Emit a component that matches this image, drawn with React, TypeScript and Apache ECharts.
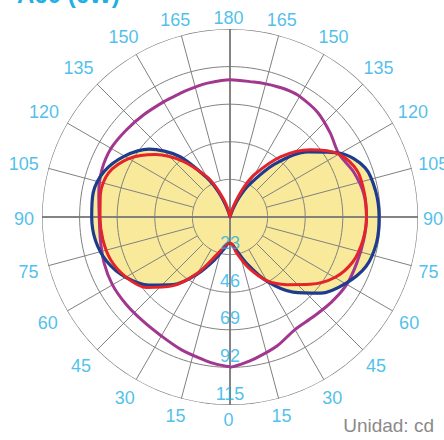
import React, { useEffect, useRef } from 'react';
import * as echarts from 'echarts';

// angles γ (0 = nadir / bottom, 180 = top), same on both halves
const gammas = [0, 5, 10, 20, 30, 40, 50, 60, 70, 80, 90, 100, 110, 120, 130, 140, 150, 155, 160, 165, 170, 180];

// intensities in cd, left half and right half
const blueLeft = [16, 16.5, 19.5, 28, 40.5, 54, 64.8, 73.7, 80, 83.5, 84.6, 85, 81.8, 74.5, 64.6, 48.5, 27, 17.5, 8, 2, 0, 0];
const blueRight = [16, 17, 20, 30.5, 45.5, 60, 72.5, 81.5, 88.5, 91, 91.2, 90.5, 88, 78, 62, 42, 22, 13, 5, 1, 0, 0];
const redLeft = [16, 16.5, 18, 25, 39.5, 55, 67, 73.5, 77.5, 79, 79.5, 80.5, 79, 71.5, 59.5, 44.5, 28.5, 20, 11.5, 5, 1, 0];
const redRight = [16, 17, 22, 33, 45, 54, 64, 74, 80, 82.5, 83.5, 83.5, 82.8, 77, 64, 48, 30, 20, 10, 4, 1, 0];
const purpleLeft = [91.6, 90.5, 89, 86.5, 84, 83, 83, 83, 82, 80.5, 80, 81.5, 83.5, 84, 82.8, 81.8, 81.3, 81.3, 81.8, 82.3, 83, 84];
const purpleRight = [92, 90, 88, 84, 79.5, 79.5, 81, 82.5, 82.5, 83, 83.5, 83, 80.5, 77, 80, 83.5, 85.2, 85.3, 84.8, 84.3, 83.8, 84];

const ringValues = [23, 46, 69, 92, 115];
const angleTicks = [0, 15, 30, 45, 60, 75, 90, 105, 120, 135, 150, 165, 180, 195, 210, 225, 240, 255, 270, 285, 300, 315, 330, 345];

const titleText = 'A60 (6W)';
const unitText = 'Unidad: cd';

const CYAN = '#1eb0e5';
const BLUE = '#1f3b8e';
const RED = '#e3242b';
const PURPLE = '#a2378f';
const YELLOW = '#f9ea9b';
const GRID = '#808080';
const FONT = '"Liberation Sans", Arial, Helvetica, sans-serif';

const CX = 230;
const CY = 217;
const R = 188;
const MAXV = 115;
const PX = R / MAXV;

function toPolar(left: number[], right: number[]) {
  const pts: number[][] = left.map((v, i) => [v, gammas[i]]);
  for (let i = right.length - 2; i >= 0; i--) pts.push([right[i], 360 - gammas[i]]);
  return pts;
}

function angleLabel(t: number) {
  return String(t <= 180 ? t : 360 - t);
}

function labelRadius(t: number) {
  const txt = angleLabel(t);
  const w = txt.length * 10;
  const h = 13;
  const rad = (t * Math.PI) / 180;
  const half = Math.abs(Math.sin(rad)) * (w / 2) + Math.abs(Math.cos(rad)) * (h / 2);
  const gap = 6.5 + 2.5 * Math.abs(Math.sin(2 * rad));
  return (R + gap + half) / PX;
}

export default function App() {
  const ref = useRef<HTMLDivElement>(null);

  useEffect(() => {
    if (!ref.current) return;
    const chart = echarts.init(ref.current, undefined, { renderer: 'svg' });

    const base = {
      type: 'line',
      coordinateSystem: 'polar',
      symbol: 'none',
      showSymbol: false,
      silent: true,
      clip: false,
      emphasis: { disabled: true },
    };

    const ringAngles: number[] = [];
    for (let a = 0; a <= 360; a += 2) ringAngles.push(a);

    const rings = ringValues.map((r, i) => ({
      ...base,
      z: 3,
      data: ringAngles.map((a) => [r, a]),
      lineStyle: { color: GRID, width: i === ringValues.length - 1 ? 1.3 : 1, opacity: 1 },
    }));

    const spokes = angleTicks
      .filter((t) => t % 90 !== 0)
      .map((t) => ({
        ...base,
        z: 3,
        data: [
          [ringValues[0], t],
          [ringValues[ringValues.length - 1], t],
        ],
        lineStyle: { color: GRID, width: 1, opacity: 1 },
      }));

    const axes = [
      {
        ...base,
        z: 4,
        data: [
          [MAXV, 0],
          [MAXV, 180],
        ],
        lineStyle: { color: '#777777', width: 2, opacity: 0.9 },
      },
      {
        ...base,
        z: 4,
        data: [
          [MAXV, 90],
          [MAXV, 270],
        ],
        lineStyle: { color: '#777777', width: 2, opacity: 0.9 },
      },
    ];

    const labelStyle = {
      show: true,
      position: 'inside',
      formatter: '{b}',
      color: CYAN,
      fontSize: 18,
      fontFamily: FONT,
    };

    const option = {
      animation: false,
      polar: { center: [CX, CY], radius: R },
      angleAxis: {
        type: 'value',
        min: 0,
        max: 360,
        interval: 15,
        startAngle: 270,
        clockwise: true,
        axisLine: { show: false },
        axisTick: { show: false },
        axisLabel: { show: false },
        splitLine: { show: false },
      },
      radiusAxis: {
        type: 'value',
        min: 0,
        max: MAXV,
        interval: 23,
        axisLine: { show: false },
        axisTick: { show: false },
        axisLabel: { show: false },
        splitLine: { show: false },
      },
      series: [
        {
          ...base,
          z: 1,
          smooth: 0.3,
          data: toPolar(blueLeft, blueRight),
          lineStyle: { width: 0, opacity: 0 },
          areaStyle: { color: YELLOW, opacity: 1 },
        },
        ...rings,
        ...spokes,
        ...axes,
        {
          ...base,
          z: 5,
          smooth: 0.3,
          data: toPolar(purpleLeft, purpleRight),
          lineStyle: { color: PURPLE, width: 3 },
        },
        {
          ...base,
          z: 6,
          smooth: 0.3,
          data: toPolar(blueLeft, blueRight),
          lineStyle: { color: BLUE, width: 3.2 },
        },
        {
          ...base,
          z: 7,
          smooth: 0.3,
          data: toPolar(redLeft, redRight),
          lineStyle: { color: RED, width: 3 },
        },
        {
          type: 'scatter',
          coordinateSystem: 'polar',
          silent: true,
          clip: false,
          z: 8,
          symbolSize: 0,
          data: angleTicks.map((t) => ({ name: angleLabel(t), value: [labelRadius(t), t] })),
          label: { ...labelStyle, offset: [-1.5, 1.5] },
        },
        {
          type: 'scatter',
          coordinateSystem: 'polar',
          silent: true,
          clip: false,
          z: 8,
          symbolSize: 0,
          data: ringValues.map((r) => ({ name: String(r), value: [r - 7, 0] })),
          label: labelStyle,
        },
      ],
      graphic: [
        {
          type: 'text',
          z: 10,
          style: {
            x: 17,
            y: 6,
            text: titleText,
            verticalAlign: 'bottom',
            font: `bold 24px ${FONT}`,
            fill: CYAN,
          },
        },
        {
          type: 'text',
          z: 10,
          style: {
            x: 434,
            y: 425,
            text: unitText,
            align: 'right',
            verticalAlign: 'middle',
            font: `19px ${FONT}`,
            fill: '#8a8a8a',
          },
        },
      ],
    };

    chart.setOption(option as any);
    return () => chart.dispose();
  }, []);

  return (
    <div
      ref={ref}
      style={{ position: 'absolute', left: 0, top: 0, width: 444, height: 440 }}
    />
  );
}
